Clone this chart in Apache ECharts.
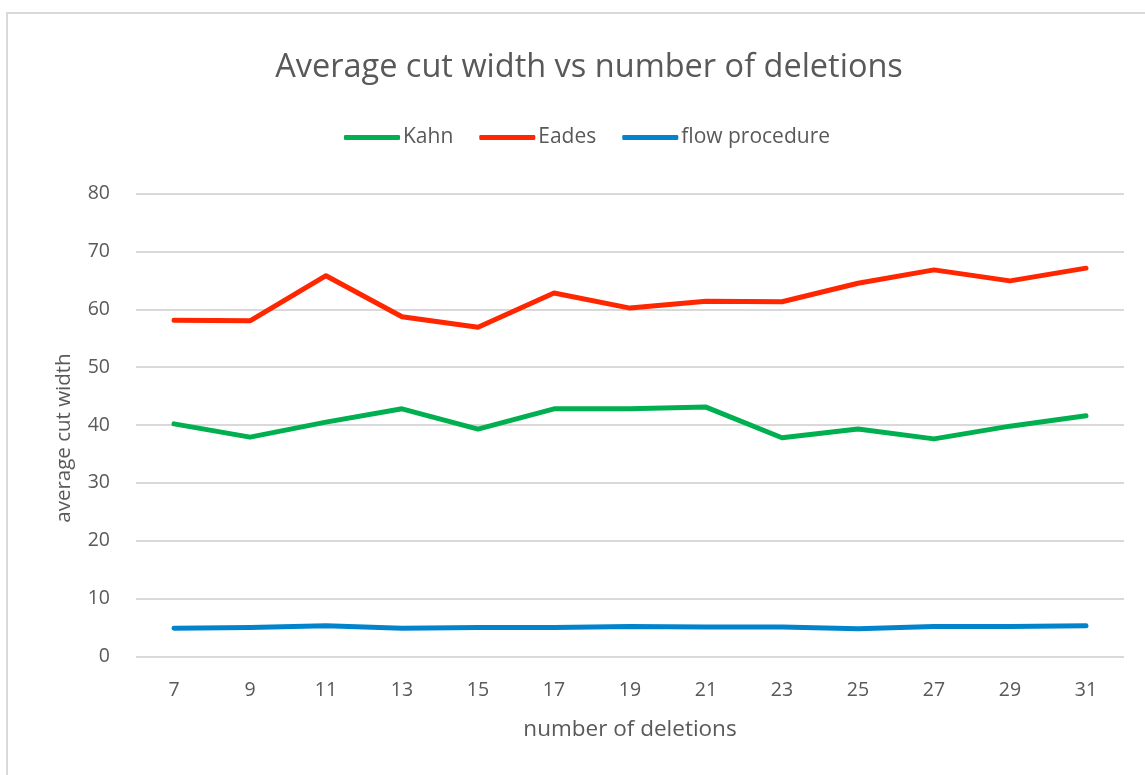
<!DOCTYPE html>
<html>
<head>
<meta charset="utf-8">
<script src="https://cdn.jsdelivr.net/npm/echarts@6/dist/echarts.min.js"></script>
<style>
  html, body { margin: 0; padding: 0; background: #fff; }
  #chart { width: 1145px; height: 775px; }
</style>
</head>
<body>
<div id="chart"></div>
<script>
// Number of deletions on the x axis
const deletions = ['7', '9', '11', '13', '15', '17', '19', '21', '23', '25', '27', '29', '31'];

// Average cut width per method
const kahn = [40.2, 37.9, 40.5, 42.8, 39.3, 42.8, 42.8, 43.1, 37.8, 39.3, 37.6, 39.8, 41.6];
const eades = [58.1, 58.0, 65.8, 58.7, 56.9, 62.8, 60.2, 61.4, 61.3, 64.5, 66.8, 64.9, 67.1];
const flowProcedure = [4.9, 5.0, 5.3, 4.9, 5.0, 5.0, 5.2, 5.1, 5.1, 4.8, 5.2, 5.2, 5.3];

const FONT = 'Open Sans';
const TEXT = '#595959';

function lineSeries(name, data, color) {
  return {
    name: name,
    type: 'line',
    data: data,
    symbol: 'none',
    smooth: false,
    lineStyle: { width: 5, color: color, cap: 'round', join: 'round' },
    itemStyle: { color: color }
  };
}

const chart = echarts.init(document.getElementById('chart'), null, { renderer: 'canvas' });
chart.setOption({
  animation: false,
  backgroundColor: '#fff',
  textStyle: { fontFamily: FONT },
  graphic: [{
    type: 'rect',
    shape: { x: 7, y: 13, width: 1150, height: 780 },
    style: { fill: 'none', stroke: '#d9d9d9', lineWidth: 2 },
    silent: true
  }],
  title: {
    text: 'Average cut width vs number of deletions',
    left: 584,
    top: 46,
    textAlign: 'center',
    textStyle: { fontFamily: FONT, fontSize: 32.5, fontWeight: 'normal', color: TEXT }
  },
  legend: {
    top: 127,
    left: 344,
    padding: 0,
    itemWidth: 56,
    itemHeight: 5,
    itemGap: 26,
    icon: 'roundRect',
    textStyle: { fontFamily: FONT, fontSize: 21, color: TEXT, padding: [0, 0, 0, -2] },
    data: ['Kahn', 'Eades', 'flow procedure']
  },
  grid: { left: 136, right: 21, top: 193.5, height: 463, containLabel: false },
  xAxis: {
    type: 'category',
    data: deletions,
    boundaryGap: true,
    axisLine: { show: false },
    axisTick: { show: false },
    axisLabel: { fontFamily: FONT, fontSize: 19.5, color: TEXT, margin: 24 },
    name: 'number of deletions',
    nameLocation: 'middle',
    nameGap: 62,
    nameTextStyle: { fontFamily: FONT, fontSize: 22.5, color: TEXT }
  },
  yAxis: {
    type: 'value',
    min: 0,
    max: 80,
    interval: 10,
    axisLine: { show: false },
    axisTick: { show: false },
    splitLine: { lineStyle: { color: '#d9d9d9', width: 2 } },
    axisLabel: { fontFamily: FONT, fontSize: 19.5, color: TEXT, margin: 26 },
    name: 'average cut width',
    nameLocation: 'middle',
    nameGap: 61,
    nameTextStyle: { fontFamily: FONT, fontSize: 20.5, color: TEXT, padding: [0, 26, 0, 0] }
  },
  series: [
    lineSeries('Kahn', kahn, '#00b050'),
    lineSeries('Eades', eades, '#ff2600'),
    lineSeries('flow procedure', flowProcedure, '#0284cc')
  ]
});
</script>
</body>
</html>
